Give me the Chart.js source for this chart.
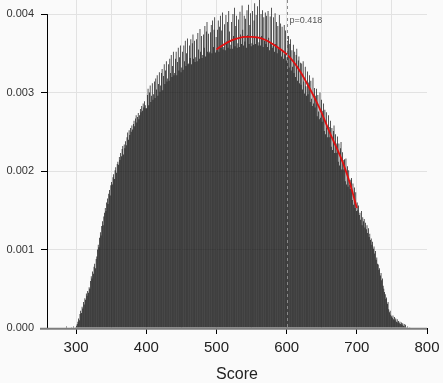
<!DOCTYPE html>
<html><head><meta charset="utf-8">
<script src="https://cdn.jsdelivr.net/npm/chart.js@4.4.1/dist/chart.umd.min.js"></script>
<style>html,body{margin:0;padding:0;background:#fafafa;}canvas{display:block;}</style>
</head><body>
<canvas id="c" width="443" height="383"></canvas>
<script>
// Histogram: one bin per score point, starting at firstScore; heights in units of 1e-5 (density)
const firstScore = 280;
const densityPer100k = [
  0,0,0,0,0,0,2,0,0,0,
  0,0,0,1,0,0,2,0,0,1,
  3,5,8,12,10,18,22,19,27,25,
  33,30,38,36,44,41,47,45,52,50,
  60,66,63,72,69,78,82,76,88,91,
  100,106,103,115,122,118,130,136,131,142,
  147,153,149,160,165,158,171,176,169,182,
  186,183,192,196,190,201,205,198,209,212,
  208,218,214,223,219,228,232,221,234,229,
  238,233,243,249,240,252,246,255,250,258,
  253,260,264,257,267,271,262,269,274,266,
  271,279,275,283,277,286,281,289,284,280,
  280,297,305,284,300,309,288,296,312,291,
  298,314,293,318,304,322,296,311,326,301,
  309,325,330,303,321,336,311,328,340,314,
  318,336,315,343,325,348,320,334,352,322,
  325,343,352,322,339,357,328,345,360,326,
  332,352,329,360,340,366,334,350,369,336,
  337,360,344,368,336,363,374,343,366,339,
  345,368,340,376,355,343,381,352,372,344,
  348,374,357,385,346,378,390,352,375,350,
  352,377,386,350,392,358,380,396,351,371,
  354,380,392,352,384,398,357,379,402,355,
  358,387,354,399,365,390,357,404,378,356,
  361,390,356,400,372,408,359,385,398,357,
  363,393,358,403,374,362,411,380,360,398,
  365,394,357,405,373,412,362,386,401,359,
  363,404,361,392,414,362,399,371,410,360,
  364,423,360,400,372,405,358,396,366,402,
  362,398,358,404,370,354,397,364,408,357,
  360,396,352,401,362,390,350,385,356,399,
  354,388,346,384,353,343,386,349,379,341,
  345,366,372,332,362,368,328,354,333,361,
  325,352,320,348,356,315,341,346,312,338,
  310,337,304,340,314,299,333,308,296,327,
  298,313,322,288,315,292,283,319,286,306,
  281,296,305,270,297,276,266,300,268,291,
  263,277,286,251,278,247,275,255,243,271,
  243,256,264,231,255,227,251,258,223,247,
  223,235,244,212,235,207,229,237,202,224,
  202,214,215,187,216,183,206,180,201,183,
  177,189,191,163,184,157,179,153,173,149,
  160,150,156,144,147,138,149,131,141,136,
  139,128,134,126,131,121,127,116,120,112,
  114,106,110,101,104,95,98,87,90,82,
  81,74,76,67,70,61,63,54,50,46,
  43,37,39,31,33,24,20,22,17,15,
  13,16,11,14,10,12,8,11,7,9,
  6,8,5,7,4,6,3,5,2,4,
  1,0,2,0,0,1,0,0,0,0
];
// Fitted curve (red), density in units of 1e-5
const curveScores  = [500,510,520,530,540,550,560,570,580,590,600,610,620,630,640,650,660,670,680,690,700];
const curvePer100k = [355,361,366,369,371,371,370,367,362,356,349,339,326,310,293,274,252,232,211,185,153];

const xTickValues = [300,350,400,450,500,550,600,650,700,750,800];
const xTickLabels = ['300','','400','','500','','600','','700','','800'];
const xMajor = [300,400,500,600,700,800];
const yTickValues = [0,0.001,0.002,0.003,0.004];
const yTickLabels = ['0.000','0.001','0.002','0.003','0.004'];
const pValueScore = 600;
const pValueLabel = 'p=0.418';
const xTitle = 'Score';

const FONT = '"Liberation Sans", Arial, Helvetica, sans-serif';
const SCALE = 1e-5;

const barData = densityPer100k.map((v, i) => ({x: firstScore + i + 0.5, y: v * SCALE}));
const curveData = curveScores.map((s, i) => ({x: s, y: curvePer100k[i] * SCALE}));

const decor = {
  id: 'decor',
  beforeDraw(chart) {
    const c = chart.ctx;
    c.save(); c.fillStyle = '#fafafa'; c.fillRect(0, 0, chart.width, chart.height); c.restore();
  },
  afterDatasetsDraw(chart) {
    const {ctx, chartArea, scales} = chart;
    const x = scales.x, y = scales.y;
    ctx.save();
    // dashed reference line
    const px = Math.round(x.getPixelForValue(pValueScore)) + 0.5;
    ctx.strokeStyle = '#8a8a8a'; ctx.lineWidth = 1; ctx.setLineDash([3, 3]);
    ctx.beginPath(); ctx.moveTo(px, chartArea.top); ctx.lineTo(px, chartArea.bottom); ctx.stroke();
    ctx.setLineDash([]);
    ctx.fillStyle = '#555'; ctx.font = '9px ' + FONT; ctx.textBaseline = 'middle'; ctx.textAlign = 'left';
    ctx.fillText(pValueLabel, px + 2, chartArea.top + 21);
    // y axis line
    const ax = Math.round(chartArea.left) + 0.5;
    ctx.strokeStyle = '#000'; ctx.lineWidth = 1;
    ctx.beginPath();
    ctx.moveTo(ax, y.getPixelForValue(yTickValues[yTickValues.length - 1]));
    ctx.lineTo(ax, y.getPixelForValue(0));
    ctx.stroke();
    // baseline
    ctx.strokeStyle = '#7d7d7d'; ctx.lineWidth = 2;
    ctx.beginPath();
    ctx.moveTo(chartArea.left - 7, chartArea.bottom + 0.8);
    ctx.lineTo(x.getPixelForValue(xTickValues[xTickValues.length - 1]), chartArea.bottom + 0.8);
    ctx.stroke();
    ctx.restore();
  }
};

new Chart(document.getElementById('c'), {
  type: 'bar',
  data: {
    datasets: [
      {type: 'line', data: curveData, borderColor: '#e01010', borderWidth: 1.8, pointRadius: 0,
       cubicInterpolationMode: 'monotone', fill: false, order: 0},
      {type: 'bar', data: barData, backgroundColor: '#0e0e0e', borderWidth: 0, inflateAmount: 0,
       barPercentage: 1, categoryPercentage: 1, order: 1}
    ]
  },
  options: {
    responsive: false, animation: false, devicePixelRatio: 1,
    layout: {padding: {left: 0, right: 16, top: 0, bottom: 0}},
    plugins: {legend: {display: false}, tooltip: {enabled: false}},
    scales: {
      x: {
        type: 'linear', position: 'bottom', min: 258.5, max: 800, offset: false,
        afterBuildTicks: s => { s.ticks = xTickValues.map(v => ({value: v})); },
        afterFit: s => { s.height = 55; s.paddingLeft = 0; s.paddingRight = 0; },
        ticks: {autoSkip: false, maxRotation: 0, padding: 5, color: '#222',
                font: {family: FONT, size: 15}, callback: (v, i) => xTickLabels[i]},
        grid: {
          offset: false,
          color: c => (c.tick && c.tick.value === 800) ? 'rgba(0,0,0,0)' : '#e2e2e2',
          lineWidth: 1, drawTicks: true, tickLength: 6, tickWidth: 1,
          tickColor: c => (c.tick && xMajor.includes(c.tick.value)) ? '#000' : 'rgba(0,0,0,0)'
        },
        border: {display: false},
        title: {display: true, text: xTitle, color: '#222', font: {family: FONT, size: 16, lineHeight: 1},
                padding: {top: 0, bottom: 0}}
      },
      y: {
        type: 'linear', min: 0, max: 0.00418,
        afterBuildTicks: s => { s.ticks = yTickValues.map(v => ({value: v})); },
        afterFit: s => { s.width = 47; s.paddingTop = 0; s.paddingBottom = 0; },
        ticks: {padding: 7, color: '#333', font: {family: FONT, size: 11}, callback: (v, i) => yTickLabels[i]},
        grid: {color: '#e2e2e2', lineWidth: 1, drawTicks: true, tickLength: 6, tickWidth: 1, tickColor: '#000'},
        border: {display: false}
      }
    }
  },
  plugins: [decor]
});
</script>
</body></html>
